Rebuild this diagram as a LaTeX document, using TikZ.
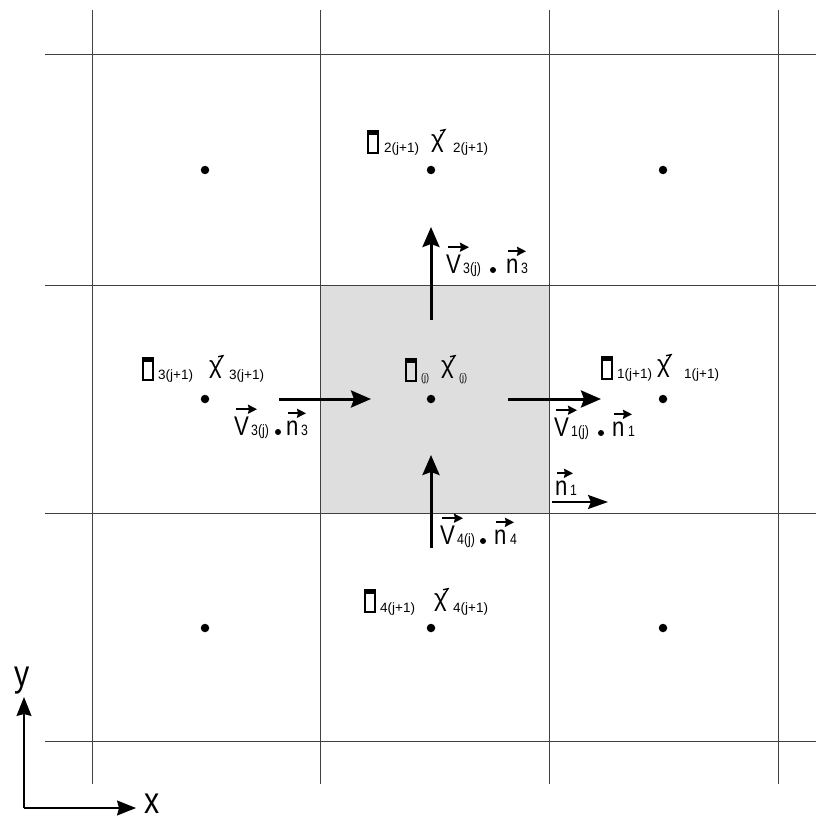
\documentclass[tikz,border=0pt]{standalone}
\usepackage{fontspec}
\setmainfont{Liberation Sans}
\newfontfamily\nar[FakeStretch=0.82]{Liberation Sans}
\usetikzlibrary{arrows.meta}
\tikzset{
 gridline/.style={draw=black!75, line width=1pt},
 celldot/.style={circle, fill=black, inner sep=0, minimum size=8.5pt},
 sepdot/.style={circle, fill=black, inner sep=0, minimum size=6pt},
 bigarr/.style={line width=3pt, -{Stealth[length=20pt,width=17pt,inset=3pt]}},
 smallarr/.style={line width=2.2pt, -{Stealth[length=20pt,width=14pt,inset=3pt]}},
 vecarr/.style={line width=2.4pt, -{Stealth[length=9pt,width=9pt,inset=1pt]}},
 axarr/.style={line width=1.2pt, -{Stealth[length=19pt,width=15pt,inset=2pt]}},
 bigl/.style={font=\nar\fontsize{27}{27}\selectfont, inner sep=0, anchor=base west},
 vsub/.style={font=\nar\fontsize{15}{15}\selectfont, inner sep=0, anchor=base west},
 lsub/.style={font=\fontsize{13.5}{13.5}\selectfont, inner sep=0, anchor=base west},
 tsub/.style={font=\nar\fontsize{11}{11}\selectfont, inner sep=0, anchor=base west},
 chiglyph/.style={font=\fontsize{24}{24}\selectfont, inner sep=0, anchor=south west},
 qbox/.style={draw, line width=1.3pt, minimum width=10pt, minimum height=22pt, inner sep=0,
   path picture={\fill (path picture bounding box.north west) rectangle ([yshift=-4pt]path picture bounding box.north east);}},
 axl/.style={font=\nar\fontsize{37}{37}\selectfont, inner sep=0, anchor=base west},
}
\newcommand\chihook[1]{\draw[line width=1.3pt] ([shift={(-3pt,-1pt)}]#1.north east) -- ([shift={(1pt,5pt)}]#1.north east) -- ([shift={(-4pt,4pt)}]#1.north east);}
\newcommand\vecover[2]{\draw[vecarr] ([shift={(2pt,7pt)}]#1.north west) -- ++(#2,0);}
\begin{document}
\begin{tikzpicture}[x=1pt,y=-1pt]
\useasboundingbox (0,0) rectangle (816,821);
% shaded cell
\fill[black!13] (320,285) rectangle (549,513);
% grid
\foreach \gx in {92,320,549,778} \draw[gridline] (\gx,10) -- (\gx,784);
\foreach \gy in {55,285,513,741} \draw[gridline] (45,\gy) -- (816,\gy);
% cell centres
\foreach \cx/\i in {205/1,431/2,663/3}
  \foreach \cy/\j in {170/1,399/2,628/3}
    \node[celldot] (d-\i-\j) at (\cx,\cy) {};
% cell labels
\node[qbox] (qT) at (373,142) {};
\node[lsub] (qTs) at (384,153) {2(j+1)};
\node[chiglyph] (cT) at (431,153) {χ}; \chihook{cT}
\node[lsub] (cTs) at (453,153) {2(j+1)};

\node[qbox] (qC) at (411,370) {};
\node[tsub] (qCs) at (421,381) {(j)};
\node[chiglyph] (cC) at (441,379) {χ}; \chihook{cC}
\node[tsub] (cCs) at (459,381) {(j)};

\node[qbox] (qL) at (148,369) {};
\node[lsub] (qLs) at (158,379) {3(j+1)};
\node[chiglyph] (cL) at (209,379) {χ}; \chihook{cL}
\node[lsub] (cLs) at (229,379) {3(j+1)};

\node[qbox] (qR) at (607,368) {};
\node[lsub] (qRs) at (617,378) {1(j+1)};
\node[chiglyph] (cR) at (657,378) {χ}; \chihook{cR}
\node[lsub] (cRs) at (684,378) {1(j+1)};

\node[qbox] (qB) at (370,601) {};
\node[lsub] (qBs) at (380,612) {4(j+1)};
\node[chiglyph] (cB) at (434,612) {χ}; \chihook{cB}
\node[lsub] (cBs) at (453,612) {4(j+1)};

% flux arrows
\coordinate (aU0) at (431,320); \coordinate (aU1) at (431,227);
\coordinate (aB0) at (431,548); \coordinate (aB1) at (431,455);
\coordinate (aL0) at (279,399); \coordinate (aL1) at (371,399);
\coordinate (aR0) at (508,399); \coordinate (aR1) at (601,399);
\coordinate (aN0) at (552,502); \coordinate (aN1) at (608,502);
\draw[bigarr] (aU0) -- (aU1);
\draw[bigarr] (aB0) -- (aB1);
\draw[bigarr] (aL0) -- (aL1);
\draw[bigarr] (aR0) -- (aR1);
\draw[smallarr] (aN0) -- (aN1);

% flux labels
\node[bigl] (vT) at (446,273) {V}; \node[vsub] (vTs) at (463,273) {3(j)};
\node[sepdot] (sT) at (493,270) {};
\node[bigl] (nT) at (506,273) {n}; \node[vsub] (nTs) at (521,273) {3};
\vecover{vT}{21} \vecover{nT}{18}

\node[bigl] (vL) at (234,435) {V}; \node[vsub] (vLs) at (251,435) {3(j)};
\node[sepdot] (sL) at (278,432) {};
\node[bigl] (nL) at (286,435) {n}; \node[vsub] (nLs) at (301,435) {3};
\vecover{vL}{21} \vecover{nL}{18}

\node[bigl] (vR) at (554,436) {V}; \node[vsub] (vRs) at (571,436) {1(j)};
\node[sepdot] (sR) at (601,433) {};
\node[bigl] (nR) at (612,436) {n}; \node[vsub] (nRs) at (628,436) {1};
\vecover{vR}{21} \vecover{nR}{18}

\node[bigl] (vB) at (440,544) {V}; \node[vsub] (vBs) at (457,544) {4(j)};
\node[sepdot] (sB) at (483,541) {};
\node[bigl] (nB) at (494,544) {n}; \node[vsub] (nBs) at (510,544) {4};
\vecover{vB}{21} \vecover{nB}{18}

\node[bigl] (nN) at (555,495) {n}; \node[vsub] (nNs) at (570,495) {1};
\vecover{nN}{16}

% axes
\coordinate (o) at (24,808);
\coordinate (oy) at (24,697);
\coordinate (ox) at (136,808);
\draw[axarr] (o) -- (oy);
\draw[axarr] (o) -- (ox);
\node[axl] (ylab) at (14,686) {y};
\node[axl] (xlab) at (144,813) {x};
\end{tikzpicture}
\end{document}
